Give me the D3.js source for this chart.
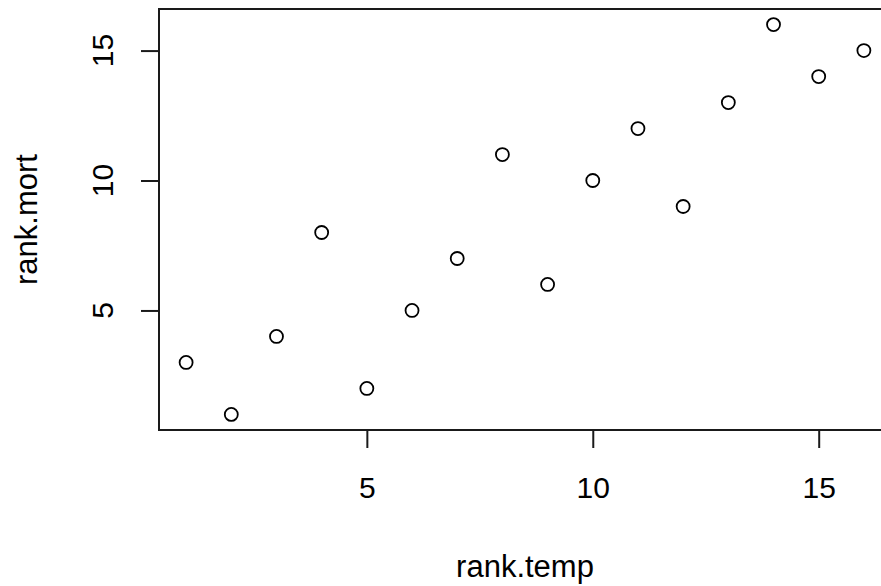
<!DOCTYPE html>
<html>
<head>
<meta charset="utf-8">
<script src="https://cdn.jsdelivr.net/npm/d3@7"></script>
<style>
  body { margin: 0; background: #fff; }
  svg { display: block; }
  text { font-family: "Liberation Sans", Arial, sans-serif; fill: #000; }
</style>
</head>
<body>
<svg width="881" height="586"></svg>
<script>
// rank.temp vs rank.mort
const rankTemp = [1, 2, 3, 4, 5, 6, 7, 8, 9, 10, 11, 12, 13, 14, 15, 16];
const rankMort = [3, 1, 4, 8, 2, 5, 7, 11, 6, 10, 12, 9, 13, 16, 14, 15];
const xTicks = [5, 10, 15];
const yTicks = [5, 10, 15];

const svg = d3.select("svg");

// plot region (right side runs past the window, like the original)
const plotLeft = 159, plotRight = 891, plotTop = 9, plotBottom = 430;

const x = d3.scaleLinear().domain([0.4, 16.6]).range([plotLeft, plotRight]);
const y = d3.scaleLinear().domain([0.4, 16.6]).range([plotBottom, plotTop]);

// box
svg.append("rect")
  .attr("x", plotLeft)
  .attr("y", plotTop)
  .attr("width", plotRight - plotLeft)
  .attr("height", plotBottom - plotTop)
  .attr("fill", "none")
  .attr("stroke", "#1a1a1a")
  .attr("stroke-width", 2);

// x axis
const xAxis = svg.append("g")
  .attr("transform", `translate(0,${plotBottom})`)
  .call(d3.axisBottom(x).tickValues(xTicks).tickSize(18).tickPadding(29).tickSizeOuter(0));
xAxis.select(".domain").remove();
xAxis.selectAll(".tick line").attr("stroke", "#1a1a1a").attr("stroke-width", 2);
xAxis.selectAll(".tick text")
  .style("font-family", "'Liberation Sans', Arial, sans-serif")
  .style("font-size", "30px")
  .attr("fill", "#000");

// y axis
const yAxis = svg.append("g")
  .attr("transform", `translate(${plotLeft},0)`)
  .call(d3.axisLeft(y).tickValues(yTicks).tickSize(18).tickSizeOuter(0));
yAxis.select(".domain").remove();
yAxis.selectAll(".tick line").attr("stroke", "#1a1a1a").attr("stroke-width", 2);
yAxis.selectAll(".tick text").remove();

svg.append("g").selectAll("text")
  .data(yTicks)
  .join("text")
  .attr("transform", (d) => `translate(113,${y(d)}) rotate(-90)`)
  .attr("text-anchor", "middle")
  .style("font-size", "30px")
  .text((d) => d);

// axis titles
svg.append("text")
  .attr("x", (plotLeft + plotRight) / 2)
  .attr("y", 577)
  .attr("text-anchor", "middle")
  .style("font-size", "31px")
  .text("rank.temp");

svg.append("text")
  .attr("transform", `translate(37,${(plotTop + plotBottom) / 2}) rotate(-90)`)
  .attr("text-anchor", "middle")
  .style("font-size", "31px")
  .text("rank.mort");

// points
const points = rankTemp.map((d, i) => ({ x: d, y: rankMort[i] }));

svg.append("g").selectAll("circle")
  .data(points)
  .join("circle")
  .attr("cx", (d) => x(d.x))
  .attr("cy", (d) => y(d.y))
  .attr("r", 6.5)
  .attr("fill", "none")
  .attr("stroke", "#000")
  .attr("stroke-width", 1.8);
</script>
</body>
</html>
